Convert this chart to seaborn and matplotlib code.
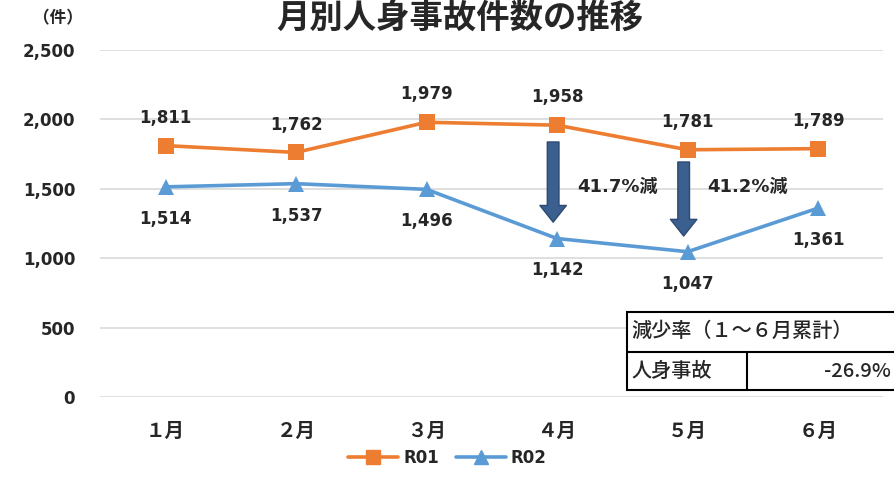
import seaborn as sns
import matplotlib.pyplot as plt
import pandas as pd
from matplotlib.patches import Rectangle
from matplotlib.lines import Line2D

sns.set_theme(style='whitegrid')
plt.rcParams['font.family'] = ['DejaVu Sans', 'Noto Sans CJK JP']

months = ['１月', '２月', '３月', '４月', '５月', '６月']
r01 = [1811, 1762, 1979, 1958, 1781, 1789]
r02 = [1514, 1537, 1496, 1142, 1047, 1361]
drops = ['41.7%減', '41.2%減']
table_title = '減少率（１～６月累計）'
table_row = ['人身事故', '-26.9%']

orange = '#ED7D31'
blue = '#5B9BD5'
arrow_col = '#3B5F8E'

df = pd.DataFrame({'month': months * 2, 'count': r01 + r02,
                   'series': ['R01'] * 6 + ['R02'] * 6})

fig = plt.figure(figsize=(8.95, 4.94), dpi=100)
ax = fig.add_axes([0.112, 0.196, 0.875, 0.703])

sns.lineplot(data=df, x='month', y='count', hue='series', style='series',
             palette=[orange, blue], markers=['s', '^'], dashes=False,
             markersize=11, linewidth=2.6, markeredgewidth=0, legend=False, ax=ax)

ax.set_xlim(-0.5, 5.5)
ax.set_ylim(0, 2500)
ax.set_yticks(range(0, 2501, 500))
ax.set_yticklabels([f'{v:,}' for v in range(0, 2501, 500)], fontsize=12, fontweight='bold')
ax.set_xticks(range(6))
ax.set_xticklabels(months, fontsize=14, fontweight='bold', family='Noto Sans CJK JP')
ax.tick_params(axis='y', pad=18, length=0)
ax.tick_params(axis='x', pad=18, length=0)
ax.set_xlabel('')
ax.set_ylabel('')
ax.grid(axis='x', visible=False)
ax.grid(axis='y', color='#D9D9D9', linewidth=1.2)
for s in ax.spines.values():
    s.set_visible(False)

for i, v in enumerate(r01):
    ax.annotate(f'{v:,}', (i, v), xytext=(0, 20), textcoords='offset points',
                ha='center', va='center', fontsize=12, fontweight='bold')
for i, v in enumerate(r02):
    ax.annotate(f'{v:,}', (i, v), xytext=(0, -23), textcoords='offset points',
                ha='center', va='center', fontsize=12, fontweight='bold')

# arrows showing decrease
for i, (top, bot) in zip([3, 4], [(1837, 1260), (1693, 1160)]):
    ax.annotate('', xy=(i - 0.03, bot), xytext=(i - 0.03, top),
                arrowprops=dict(arrowstyle='simple,head_width=0.95,head_length=0.6,tail_width=0.42',
                                fc=arrow_col, ec='#2C4A73', lw=1, mutation_scale=20,
                                shrinkA=0, shrinkB=0))
for i, t in zip([3.46, 4.46], drops):
    ax.text(i, 1513, t, ha='center', va='center', fontsize=13, fontweight='bold',
            family=['DejaVu Sans', 'Noto Sans CJK JP'])

# title and unit
fig.text(0.514, 0.962, '月別人身事故件数の推移', ha='center', va='center',
         fontsize=24, fontweight='bold', family='Noto Sans CJK JP')
fig.text(0.065, 0.963, '（件）', ha='center', va='center', fontsize=12,
         fontweight='bold', family='Noto Sans CJK JP')

# summary table
W, H = 895, 494
def fx(px):
    return px / W
def fy(py):
    return 1 - py / H
fig.patches.append(Rectangle((fx(627), fy(390)), fx(895) - fx(627) + 0.01, fy(312) - fy(390),
                             transform=fig.transFigure, fc='white', ec='black', lw=1.5, zorder=5))
fig.lines.append(Line2D([fx(627), 1], [fy(352), fy(352)], transform=fig.transFigure,
                        color='black', lw=1.5, zorder=6))
fig.lines.append(Line2D([fx(747), fx(747)], [fy(352), fy(390)], transform=fig.transFigure,
                        color='black', lw=1.5, zorder=6))
fig.text(fx(631), fy(331), table_title, ha='left', va='center', fontsize=14.5,
         fontweight='medium', family='Noto Sans CJK JP', zorder=7)
fig.text(fx(631), fy(371), table_row[0], ha='left', va='center', fontsize=14.5,
         fontweight='medium', family='Noto Sans CJK JP', zorder=7)
fig.text(fx(891), fy(371), table_row[1], ha='right', va='center', fontsize=14.5,
         fontweight='medium', family='Noto Sans CJK JP', zorder=7)

handles = [Line2D([], [], color=orange, marker='s', lw=2.6, markersize=10),
           Line2D([], [], color=blue, marker='^', lw=2.6, markersize=10)]
fig.legend(handles, ['R01', 'R02'], loc='center', bbox_to_anchor=(0.5, 0.073), ncol=2,
           frameon=False, prop={'weight': 'bold', 'size': 12}, handlelength=3,
           columnspacing=1.0, handletextpad=0.3)

fig.savefig('out.png', dpi=100)
